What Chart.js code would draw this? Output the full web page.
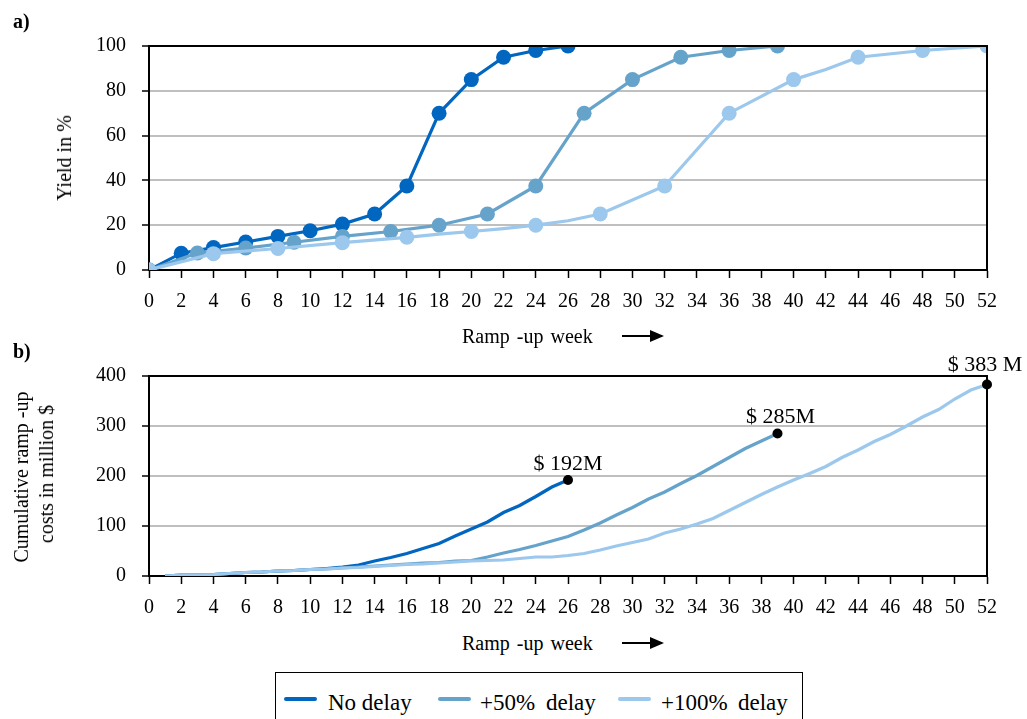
<!DOCTYPE html>
<html>
<head>
<meta charset="utf-8">
<script src="https://cdn.jsdelivr.net/npm/chart.js@4.4.1/dist/chart.umd.min.js"></script>
<style>
  html, body { margin: 0; padding: 0; background: #fff; }
  body { width: 1027px; height: 719px; position: relative; overflow: hidden; font-family: "Liberation Serif", "Times New Roman", serif; color: #000; }
  canvas { position: absolute; left: 0; }
  .txt { position: absolute; white-space: nowrap; font-size: 20px; line-height: 1; }
  .rot { position: absolute; white-space: nowrap; font-size: 20px; line-height: 1; transform: translate(-50%, -50%) rotate(-90deg); }
  .arrow { position: absolute; height: 2px; background: #000; }
  .arrow:after { content: ""; position: absolute; right: -2px; top: -5px; border-left: 14px solid #000; border-top: 6px solid transparent; border-bottom: 6px solid transparent; }
  #legend { position: absolute; left: 275px; top: 672px; width: 528px; height: 60px; border: 1.5px solid #000; box-sizing: border-box; }
  .li { position: absolute; top: 18px; font-size: 23px; line-height: 1; white-space: nowrap; }
  .ls { position: absolute; top: 24px; height: 4px; width: 33px; border-radius: 2px; }
</style>
</head>
<body>
<canvas id="cA" width="1027" height="320" style="top:0px;width:1027px;height:320px"></canvas>
<canvas id="cB" width="1027" height="290" style="top:330px;width:1027px;height:290px"></canvas>

<div class="txt" style="left:13px;top:11px;font-weight:bold;">a)</div>
<div class="txt" style="left:13px;top:341px;font-weight:bold;">b)</div>
<div class="rot" style="left:64px;top:158px;">Yield in %</div>
<div class="rot" style="left:21px;top:477px;">Cumulative ramp -up</div>
<div class="rot" style="left:46px;top:474px;">costs in million $</div>
<div class="txt" style="left:462px;top:326px;word-spacing:2px;">Ramp -up week</div>
<div class="arrow" style="left:622px;top:335px;width:40px;"></div>
<div class="txt" style="left:462px;top:633px;word-spacing:2px;">Ramp -up week</div>
<div class="arrow" style="left:622px;top:642px;width:40px;"></div>

<div id="legend">
  <div class="ls" style="left:8px;background:#0066C0"></div>
  <div class="li" style="left:52px">No delay</div>
  <div class="ls" style="left:162px;background:#66A3CB"></div>
  <div class="li" style="left:204px">+50%</div>
  <div class="li" style="left:270px">delay</div>
  <div class="ls" style="left:342px;background:#9BC8EC"></div>
  <div class="li" style="left:385px">+100%</div>
  <div class="li" style="left:462px">delay</div>
</div>

<script>
// ---------- Data ----------
const seriesNames = ["No delay", "+50% delay", "+100% delay"];

// Panel a) Yield in %
const weeksA_noDelay = [0, 2, 4, 6, 8, 10, 12, 14, 16, 18, 20, 22, 24, 26];
const yieldA_noDelay = [0, 7.5, 10, 12.5, 15, 17.5, 20.5, 25, 37.5, 70, 85, 95, 98, 100];
const weeksA_50 = [0, 3, 6, 9, 12, 15, 18, 21, 24, 27, 30, 33, 36, 39];
const yieldA_50 = [0, 7.6, 9.8, 12.4, 15, 17.2, 20, 25, 37.5, 70, 85, 95, 98, 100];
const weeksA_100 = [0, 4, 8, 12, 16, 18, 20, 22, 24, 26, 28, 32, 36, 40, 42, 44, 48, 52];
const yieldA_100 = [0, 7.3, 9.6, 12.2, 14.6, 16, 17.2, 18.5, 20, 22, 25, 37.5, 70, 85, 89.5, 95, 98, 100];
const markerWeeksA_100 = [0, 4, 8, 12, 16, 20, 24, 28, 32, 36, 40, 44, 48, 52];

// Panel b) Cumulative ramp-up costs in million $
const weeksB_noDelay = [1,2,3,4,5,6,7,8,9,10,11,12,13,14,15,16,17,18,19,20,21,22,23,24,25,26];
const costsB_noDelay = [0,2,2,3,5,7,8,10,11,13,15,18,22,30,37,45,55,65,80,94,108,127,141,159,178,192];
const weeksB_50 = [1,2,3,4,5,6,7,8,9,10,11,12,13,14,15,16,17,18,19,20,21,22,23,24,25,26,27,28,29,30,31,32,33,34,35,36,37,38,39];
const costsB_50 = [0,2,2,3,5,7,8,10,11,13,14,16,18,20,22,24,26,27,30,31,38,46,53,61,70,79,92,106,122,137,154,168,185,201,219,237,255,270,285];
const weeksB_100 = [1,2,3,4,5,6,7,8,9,10,11,12,13,14,15,16,17,18,19,20,21,22,23,24,25,26,27,28,29,30,31,32,33,34,35,36,37,38,39,40,41,42,43,44,45,46,47,48,49,50,51,52];
const costsB_100 = [0,2,2,3,5,7,8,10,11,13,14,16,17,19,21,23,24,26,28,30,31,32,35,38,38,41,45,52,60,67,74,86,94,104,115,131,147,163,178,192,205,219,237,252,269,283,300,318,333,354,372,383];

const endLabels = ["$ 192M", "$ 285M", "$ 383 M"];

const xTicksWeeks = { min: 0, max: 52, step: 2 };
const yTicksA = { min: 0, max: 100, step: 20 };
const yTicksB = { min: 0, max: 400, step: 100 };

// ---------- Styles ----------
const colors = ["#0066C0", "#66A3CB", "#9BC8EC"];
const FONT = { family: "'Liberation Serif', 'Times New Roman', serif", size: 20 };

function pts(xs, ys) { return xs.map((x, i) => ({ x: x, y: ys[i] })); }

const frame = {
  id: 'frame',
  afterDatasetsDraw(chart) {
    const a = chart.chartArea, c = chart.ctx;
    c.save();
    c.strokeStyle = '#000';
    c.lineWidth = 2;
    c.beginPath();
    c.moveTo(a.left, a.top);
    c.lineTo(a.right, a.top);
    c.lineTo(a.right, a.bottom);
    c.stroke();
    c.restore();
  }
};

function scales(yT, w) {
  return {
    x: {
      type: 'linear', min: xTicksWeeks.min, max: xTicksWeeks.max,
      afterFit(s) { s.height = w.xh; },
      border: { color: '#000', width: 2 },
      grid: { drawOnChartArea: false, tickLength: 8, tickColor: '#000', tickWidth: 1.5 },
      ticks: { stepSize: xTicksWeeks.step, autoSkip: false, maxRotation: 0, color: '#000', font: FONT, padding: 12 }
    },
    y: {
      min: yT.min, max: yT.max,
      afterFit(s) { s.width = 60; },
      border: { color: '#000', width: 2 },
      grid: { color: '#BFBFBF', lineWidth: 2, tickLength: 7, tickColor: '#000', tickWidth: 1.5 },
      ticks: { stepSize: yT.step, color: '#000', font: FONT, padding: 16 }
    }
  };
}

const common = {
  responsive: false, animation: false, devicePixelRatio: 1,
  plugins: { legend: { display: false }, tooltip: { enabled: false } },
  elements: { line: { tension: 0, borderWidth: 3.2 } }
};

// ---------- Chart a ----------
new Chart(document.getElementById('cA'), {
  type: 'line',
  data: {
    datasets: [
      { label: seriesNames[0], data: pts(weeksA_noDelay, yieldA_noDelay), borderColor: colors[0], backgroundColor: colors[0], pointRadius: 7.5, pointBorderWidth: 0, order: 3 },
      { label: seriesNames[1], data: pts(weeksA_50, yieldA_50), borderColor: colors[1], backgroundColor: colors[1], pointRadius: 7.5, pointBorderWidth: 0, order: 2 },
      { label: seriesNames[2], data: pts(weeksA_100, yieldA_100), borderColor: colors[2], backgroundColor: colors[2],
        pointRadius: weeksA_100.map(w => markerWeeksA_100.includes(w) ? 7.5 : 0), pointBorderWidth: 0, order: 1 }
    ]
  },
  options: Object.assign({}, common, {
    layout: { padding: { left: 89, right: 40, top: 46, bottom: 0 } },
    scales: scales(yTicksA, { xh: 50 })
  }),
  plugins: [frame]
});

// ---------- Chart b ----------
const endLabelPlugin = {
  id: 'endLabels',
  afterDatasetsDraw(chart) {
    const c = chart.ctx, xs = chart.scales.x, ys = chart.scales.y;
    const ends = [
      [weeksB_noDelay[weeksB_noDelay.length - 1], costsB_noDelay[costsB_noDelay.length - 1]],
      [weeksB_50[weeksB_50.length - 1], costsB_50[costsB_50.length - 1]],
      [weeksB_100[weeksB_100.length - 1], costsB_100[costsB_100.length - 1]]
    ];
    const offs = [[0, 10], [3, 11], [-2, 14]];
    c.save();
    c.font = "22px 'Liberation Serif', 'Times New Roman', serif";
    c.fillStyle = '#000';
    c.textAlign = 'center';
    c.textBaseline = 'alphabetic';
    ends.forEach((e, i) => {
      const px = xs.getPixelForValue(e[0]), py = ys.getPixelForValue(e[1]);
      c.fillText(endLabels[i], px + offs[i][0], py - offs[i][1]);
    });
    c.restore();
  }
};

new Chart(document.getElementById('cB'), {
  type: 'line',
  data: {
    datasets: [
      { label: seriesNames[0], data: pts(weeksB_noDelay, costsB_noDelay), borderColor: colors[0], pointRadius: 0, order: 3 },
      { label: seriesNames[1], data: pts(weeksB_50, costsB_50), borderColor: colors[1], pointRadius: 0, order: 2 },
      { label: seriesNames[2], data: pts(weeksB_100, costsB_100), borderColor: colors[2], pointRadius: 0, order: 1 },
      { label: 'end', type: 'scatter', order: 0,
        data: [
          { x: weeksB_noDelay[weeksB_noDelay.length - 1], y: costsB_noDelay[costsB_noDelay.length - 1] },
          { x: weeksB_50[weeksB_50.length - 1], y: costsB_50[costsB_50.length - 1] },
          { x: weeksB_100[weeksB_100.length - 1], y: costsB_100[costsB_100.length - 1] }
        ],
        backgroundColor: '#000', borderColor: '#000', pointRadius: 5, pointBorderWidth: 0, clip: false }
    ]
  },
  options: Object.assign({}, common, {
    layout: { padding: { left: 89, right: 40, top: 46, bottom: 0 } },
    scales: scales(yTicksB, { xh: 44 })
  }),
  plugins: [frame, endLabelPlugin]
});
</script>
</body>
</html>
